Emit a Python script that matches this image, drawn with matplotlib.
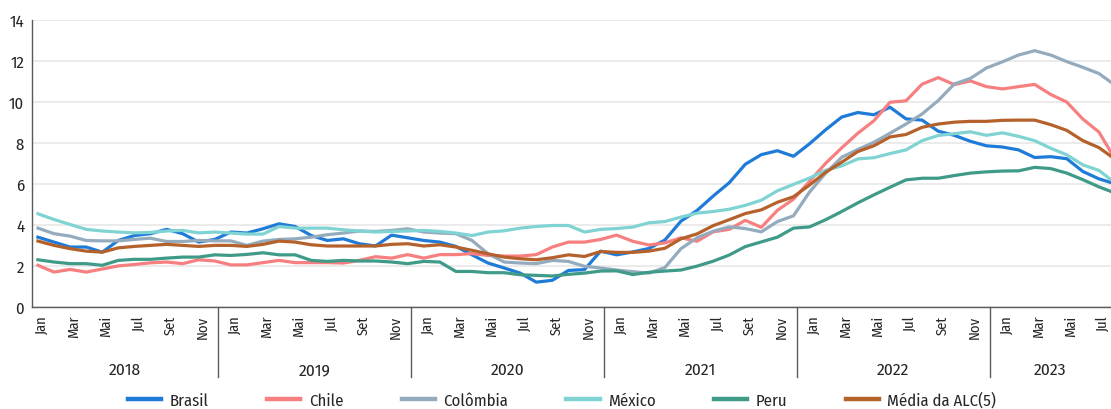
import matplotlib
matplotlib.use('Agg')
import matplotlib.pyplot as plt
import matplotlib.transforms as mtransforms

plt.rcParams['font.family'] = ['Fira Sans Condensed', 'Liberation Sans', 'DejaVu Sans']

years = ['2018', '2019', '2020', '2021', '2022', '2023']
month_names = ['Jan', 'Fev', 'Mar', 'Abr', 'Mai', 'Jun', 'Jul', 'Ago', 'Set', 'Out', 'Nov', 'Dez']
# Jan 2018 .. Ago 2023 (the last month is cut off by the right edge)
months = [m for y in years for m in month_names][:68]

brasil = [3.40, 3.16, 2.92, 2.92, 2.67, 3.24, 3.48, 3.57, 3.78, 3.57, 3.16, 3.29,
          3.65, 3.60, 3.81, 4.05, 3.92, 3.48, 3.24, 3.32, 3.08, 2.97, 3.50, 3.37,
          3.24, 3.16, 2.95, 2.54, 2.14, 1.90, 1.65, 1.21, 1.30, 1.78, 1.82, 2.72,
          2.54, 2.68, 2.85, 3.26, 4.18, 4.70, 5.40, 6.05, 6.95, 7.42, 7.61, 7.34,
          7.95, 8.63, 9.25, 9.47, 9.36, 9.73, 9.16, 9.10, 8.56, 8.36, 8.07, 7.85,
          7.79, 7.65, 7.28, 7.32, 7.22, 6.60, 6.24, 6.00]
chile = [2.03, 1.70, 1.83, 1.70, 1.85, 2.00, 2.07, 2.15, 2.19, 2.11, 2.30, 2.24,
         2.05, 2.05, 2.16, 2.27, 2.16, 2.16, 2.16, 2.14, 2.27, 2.45, 2.38, 2.55,
         2.38, 2.55, 2.55, 2.60, 2.51, 2.48, 2.48, 2.55, 2.92, 3.16, 3.16, 3.29,
         3.50, 3.20, 3.02, 3.12, 3.37, 3.20, 3.66, 3.78, 4.22, 3.88, 4.71, 5.25,
         6.12, 7.00, 7.75, 8.46, 9.07, 9.97, 10.04, 10.85, 11.17, 10.83, 11.01, 10.73,
         10.62, 10.73, 10.84, 10.35, 9.98, 9.15, 8.52, 7.20]
colombia = [3.84, 3.57, 3.45, 3.24, 3.22, 3.22, 3.29, 3.35, 3.19, 3.19, 3.24, 3.22,
            3.22, 3.00, 3.21, 3.29, 3.32, 3.40, 3.52, 3.60, 3.70, 3.68, 3.73, 3.81,
            3.65, 3.60, 3.57, 3.24, 2.59, 2.19, 2.14, 2.11, 2.27, 2.22, 1.98, 1.90,
            1.80, 1.72, 1.65, 1.92, 2.84, 3.37, 3.69, 3.90, 3.82, 3.66, 4.16, 4.44,
            5.60, 6.52, 7.29, 7.67, 8.02, 8.46, 8.91, 9.40, 10.05, 10.86, 11.13, 11.64,
            11.94, 12.27, 12.48, 12.27, 11.95, 11.67, 11.37, 10.80]
mexico = [4.54, 4.26, 4.02, 3.78, 3.70, 3.65, 3.61, 3.63, 3.70, 3.73, 3.61, 3.65,
          3.60, 3.55, 3.55, 3.92, 3.84, 3.84, 3.84, 3.76, 3.70, 3.65, 3.68, 3.70,
          3.73, 3.68, 3.60, 3.48, 3.65, 3.71, 3.84, 3.92, 3.97, 3.97, 3.65, 3.78,
          3.82, 3.89, 4.10, 4.16, 4.38, 4.57, 4.65, 4.76, 4.95, 5.20, 5.66, 5.97,
          6.28, 6.66, 6.87, 7.21, 7.27, 7.47, 7.65, 8.10, 8.35, 8.44, 8.53, 8.36,
          8.48, 8.31, 8.10, 7.73, 7.41, 6.92, 6.65, 6.05]
peru = [2.30, 2.19, 2.11, 2.11, 2.03, 2.27, 2.32, 2.32, 2.38, 2.43, 2.43, 2.54,
        2.51, 2.56, 2.64, 2.54, 2.54, 2.27, 2.22, 2.27, 2.24, 2.24, 2.19, 2.11,
        2.22, 2.19, 1.73, 1.73, 1.67, 1.67, 1.57, 1.54, 1.51, 1.59, 1.65, 1.75,
        1.76, 1.58, 1.69, 1.75, 1.80, 1.99, 2.23, 2.53, 2.94, 3.17, 3.40, 3.84,
        3.90, 4.25, 4.65, 5.07, 5.46, 5.83, 6.19, 6.27, 6.27, 6.40, 6.52, 6.58,
        6.62, 6.63, 6.80, 6.74, 6.52, 6.20, 5.85, 5.55]
media = [3.21, 3.00, 2.84, 2.72, 2.67, 2.88, 2.95, 3.00, 3.05, 3.00, 2.95, 3.00,
         3.00, 2.95, 3.05, 3.21, 3.16, 3.03, 2.97, 2.97, 2.97, 2.97, 3.05, 3.08,
         2.97, 3.03, 2.92, 2.76, 2.59, 2.43, 2.35, 2.30, 2.40, 2.54, 2.46, 2.70,
         2.66, 2.66, 2.72, 2.86, 3.32, 3.56, 3.96, 4.25, 4.55, 4.73, 5.10, 5.37,
         5.94, 6.56, 7.05, 7.57, 7.85, 8.28, 8.40, 8.75, 8.91, 9.00, 9.04, 9.04,
         9.09, 9.10, 9.10, 8.88, 8.60, 8.10, 7.76, 7.20]

series = [('Brasil', brasil, '#1f7bd8'),
          ('Chile', chile, '#f77f7f'),
          ('Colômbia', colombia, '#94abbe'),
          ('México', mexico, '#80d3d3'),
          ('Peru', peru, '#3f9b88'),
          ('Média da ALC(5)', media, '#b5612b')]

txt_col = '#262626'

fig = plt.figure(figsize=(11.11, 4.10), dpi=100)
ax = fig.add_axes([0.0285, 0.2488, 0.9715, 0.7012])

x = list(range(len(months)))
for name, vals, col in series:
    ax.plot(x, vals, color=col, lw=2.3, label=name, solid_joinstyle='round')

ax.set_xlim(-0.39, 66.75)
ax.set_ylim(0, 14)
ax.set_yticks(range(0, 15, 2))
ax.yaxis.grid(True, color='#e6e6e6', lw=1.1)
ax.set_axisbelow(True)
for s in ['top', 'right']:
    ax.spines[s].set_visible(False)
for s in ['left', 'bottom']:
    ax.spines[s].set_color('#5a5a5a')
    ax.spines[s].set_linewidth(1.0)

ax.tick_params(axis='y', length=0, pad=5.5, labelsize=12, labelcolor=txt_col)
tick_pos = [i + 0.25 for i in range(0, len(months), 2)]
ax.set_xticks(tick_pos)
ax.set_xticklabels(months[::2], rotation=90, fontsize=10.5, color=txt_col)
ax.tick_params(axis='x', length=0, pad=5.5)

# year groups below the month labels
trans = mtransforms.blended_transform_factory(ax.transData, ax.transAxes)
seps = [12 * k + 11.2 for k in range(5)]
for s in seps:
    ax.plot([s, s], [0, -0.245], color='#5a5a5a', lw=1.0, transform=trans, clip_on=False)
edges = [-0.39] + seps + [66.75]
for k, yr in enumerate(years):
    ax.text((edges[k] + edges[k + 1]) / 2, -0.218, yr, transform=trans,
            ha='center', va='center', fontsize=12.5, color=txt_col)

fig.legend(loc='center', bbox_to_anchor=(0.506, 0.022), ncol=6, frameon=False,
           fontsize=12, handlelength=2.0, handletextpad=0.5, columnspacing=3.5,
           borderpad=0, labelcolor=txt_col)
for line in fig.legends[0].get_lines():
    line.set_linewidth(3.2)

fig.savefig('out.png', dpi=100)
